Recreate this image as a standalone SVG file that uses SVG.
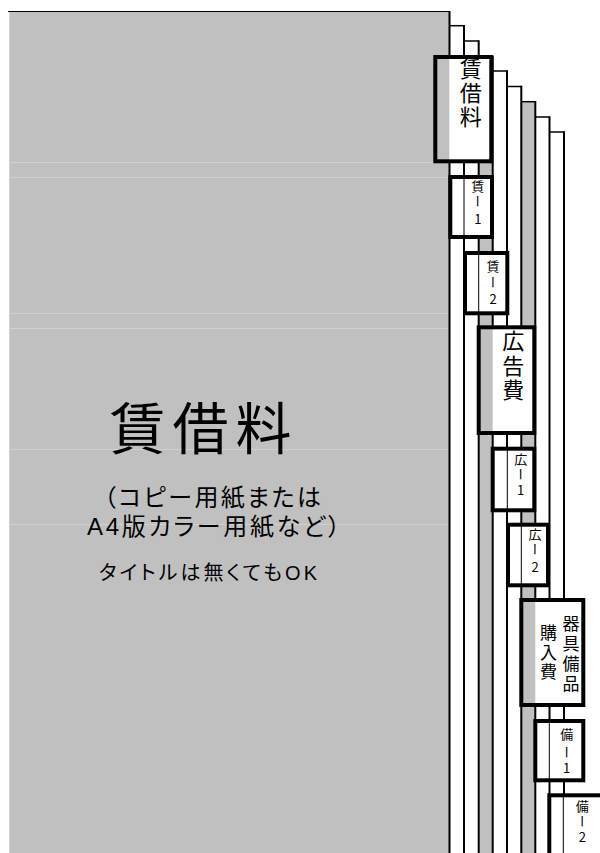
<svg xmlns="http://www.w3.org/2000/svg" width="600" height="853" viewBox="0 0 600 853">
<style>
.gray{fill:#C0C0C0}
.faint{stroke:#D0D0D0;stroke-width:1}
.vline{stroke:#000;stroke-width:2;fill:none}
.hline{stroke:#000;stroke-width:1.5;fill:none}
.tabbg{fill:#fff;stroke:none}
.tabout{fill:none;stroke:#000;stroke-width:4}
.fold{stroke:#000;stroke-width:1}
.jp{font-family:"Noto Sans CJK JP","Noto Sans CJK SC",sans-serif;fill:#000}
.mt{font-family:"Liberation Sans","Noto Sans CJK JP",sans-serif;fill:#000;font-feature-settings:"palt"}
.v{writing-mode:vertical-rl;text-orientation:upright;text-anchor:middle}
.big{font-size:22px}
.mid{font-size:17px}
.sm{font-size:13px}
</style>
<rect width="600" height="853" fill="#fff"/>

<g id="title-sheet">
  <rect class="gray" x="9" y="11" width="440.5" height="842"/>
  <line class="faint" x1="9.5" y1="12" x2="9.5" y2="853"/>
  <line class="faint" x1="10" y1="162.5" x2="433" y2="162.5"/>
  <line class="faint" x1="10" y1="177.5" x2="448" y2="177.5"/>
  <line class="faint" x1="10" y1="313.5" x2="448" y2="313.5"/>
  <line class="faint" x1="10" y1="328.5" x2="448" y2="328.5"/>
  <line class="faint" x1="10" y1="449.5" x2="448" y2="449.5"/>
  <line class="faint" x1="10" y1="524.5" x2="448" y2="524.5"/>
  <line x1="8" y1="11.5" x2="450" y2="11.5" stroke="#000" stroke-width="1"/>
  <line x1="449.5" y1="11" x2="449.5" y2="853" stroke="#000" stroke-width="2"/>
  <text class="mt" x="109.5" y="448.5" font-size="56" textLength="182" lengthAdjust="spacing">賃借料</text>
  <text class="mt" x="104" y="506" font-size="24" textLength="217" lengthAdjust="spacing">（コピー用紙または</text>
  <text class="mt" x="87" y="535" font-size="24" textLength="253" lengthAdjust="spacing">A4版カラー用紙など）</text>
  <text class="mt" x="99" y="580" font-size="20" textLength="218" lengthAdjust="spacing">タイトルは無くてもOK</text>
</g>

<g id="divider-sheets">
  <rect class="gray" x="478.7" y="57" width="14" height="796"/>
  <rect class="gray" x="521.3" y="102" width="14" height="751"/>
  <polyline class="hline" points="449.5,25.7 464,25.7"/>
  <polyline class="hline" points="464,41 478.7,41"/>
  <polyline class="hline" points="478.7,56.5 492.7,56.5"/>
  <polyline class="hline" points="492.7,71 507,71"/>
  <polyline class="hline" points="507,86.5 521.3,86.5"/>
  <polyline class="hline" points="521.3,101.7 535.3,101.7"/>
  <polyline class="hline" points="535.3,117 549.5,117"/>
  <polyline class="hline" points="549.5,132 564,132"/>
  <line class="vline" x1="464" y1="25" x2="464" y2="853"/>
  <line class="vline" x1="478.7" y1="40.3" x2="478.7" y2="853"/>
  <line class="vline" x1="492.7" y1="56" x2="492.7" y2="853"/>
  <line class="vline" x1="507" y1="70.3" x2="507" y2="853"/>
  <line class="vline" x1="521.3" y1="85.8" x2="521.3" y2="853"/>
  <line class="vline" x1="535.3" y1="101" x2="535.3" y2="853"/>
  <line class="vline" x1="549.5" y1="116.3" x2="549.5" y2="853"/>
  <line class="vline" x1="564" y1="131.3" x2="564" y2="853"/>
</g>

<g id="tab-chinshakuryo">
  <rect class="tabbg" x="435.3" y="57" width="56" height="104.3"/>
  <rect class="gray" x="435.3" y="57" width="14" height="104.3"/>
  <rect class="tabout" x="435.3" y="57" width="56" height="104.3"/>
  <text class="jp v big" x="470.8" y="69">賃</text>
  <text class="jp v big" x="470.8" y="93">借</text>
  <text class="jp v big" x="470.8" y="117">料</text>
</g>

<g id="tab-chin-1">
  <rect class="tabbg" x="450.3" y="177" width="41.7" height="60"/>
  <line class="fold" x1="464" y1="177" x2="464" y2="237"/>
  <rect class="tabout" x="450.3" y="177" width="41.7" height="60"/>
  <text class="jp v sm" x="477.8" y="186">賃</text>
  <text class="jp v sm" x="477.8" y="201.5">ー</text>
  <text class="jp v sm" x="477.8" y="219">1</text>
</g>

<g id="tab-chin-2">
  <rect class="tabbg" x="465" y="253" width="42.3" height="60.3"/>
  <line class="fold" x1="478.7" y1="253" x2="478.7" y2="313.3"/>
  <rect class="tabout" x="465" y="253" width="42.3" height="60.3"/>
  <text class="jp v sm" x="493" y="265.8">賃</text>
  <text class="jp v sm" x="493" y="281.7">ー</text>
  <text class="jp v sm" x="493" y="298.8">2</text>
</g>

<g id="tab-kokokuhi">
  <rect class="tabbg" x="478.7" y="327.3" width="55.6" height="105.7"/>
  <rect class="gray" x="478.7" y="327.3" width="14" height="105.7"/>
  <rect class="tabout" x="478.7" y="327.3" width="55.6" height="105.7"/>
  <text class="jp v big" x="513.3" y="340.8">広</text>
  <text class="jp v big" x="513.3" y="365.8">告</text>
  <text class="jp v big" x="513.3" y="389.7">費</text>
</g>

<g id="tab-ko-1">
  <rect class="tabbg" x="492.7" y="448.7" width="41.6" height="61.6"/>
  <line class="fold" x1="507.3" y1="448.7" x2="507.3" y2="510.3"/>
  <rect class="tabout" x="492.7" y="448.7" width="41.6" height="61.6"/>
  <text class="jp v sm" x="520.7" y="459">広</text>
  <text class="jp v sm" x="520.7" y="474">ー</text>
  <text class="jp v sm" x="520.7" y="490">1</text>
</g>

<g id="tab-ko-2">
  <rect class="tabbg" x="508" y="524.7" width="40" height="60.6"/>
  <line class="fold" x1="521.3" y1="524.7" x2="521.3" y2="585.3"/>
  <rect class="tabout" x="508" y="524.7" width="40" height="60.6"/>
  <text class="jp v sm" x="535" y="534">広</text>
  <text class="jp v sm" x="535" y="549">ー</text>
  <text class="jp v sm" x="535" y="566.7">2</text>
</g>

<g id="tab-kigubihin">
  <rect class="tabbg" x="521.3" y="600" width="62" height="105"/>
  <rect class="gray" x="521.3" y="600" width="14" height="105"/>
  <rect class="tabout" x="521.3" y="600" width="62" height="105"/>
  <text class="jp v mid" x="571" y="623.5">器</text>
  <text class="jp v mid" x="571" y="643.5">具</text>
  <text class="jp v mid" x="571" y="663.5">備</text>
  <text class="jp v mid" x="571" y="683.5">品</text>
  <text class="jp v mid" x="548.5" y="633">購</text>
  <text class="jp v mid" x="548.5" y="652.5">入</text>
  <text class="jp v mid" x="548.5" y="672">費</text>
</g>

<g id="tab-bi-1">
  <rect class="tabbg" x="535.3" y="721" width="48" height="59.3"/>
  <line class="fold" x1="549.3" y1="721" x2="549.3" y2="780.3"/>
  <rect class="tabout" x="535.3" y="721" width="48" height="59.3"/>
  <text class="jp v sm" x="566.7" y="734.5" font-size="14">備</text>
  <text class="jp v sm" x="566.7" y="752.5" font-size="14">ー</text>
  <text class="jp v sm" x="566.7" y="768" font-size="14">1</text>
</g>

<g id="tab-bi-2">
  <rect class="tabbg" x="549.3" y="795.3" width="56" height="70"/>
  <line class="fold" x1="563.3" y1="795.3" x2="563.3" y2="853"/>
  <rect class="tabout" x="549.3" y="795.3" width="56" height="70"/>
  <text class="jp v sm" x="582.3" y="805.8">備</text>
  <text class="jp v sm" x="582.3" y="820.8">ー</text>
  <text class="jp v sm" x="582.3" y="837.2">2</text>
</g>
</svg>
